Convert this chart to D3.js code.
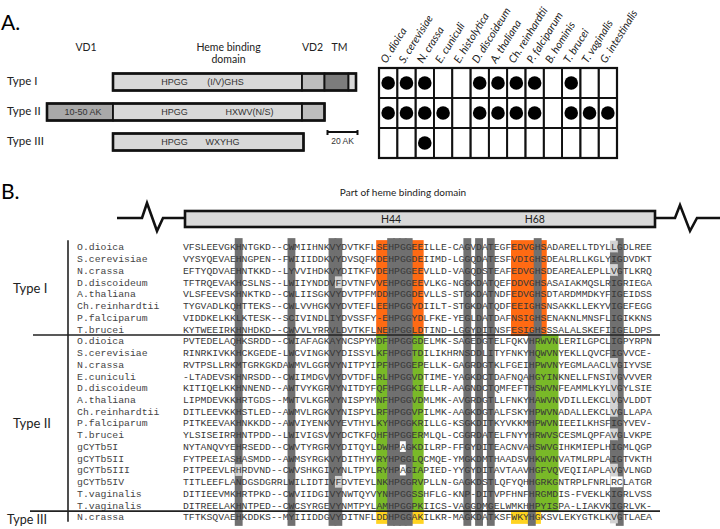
<!DOCTYPE html>
<html>
<head>
<meta charset="utf-8">
<script src="https://cdn.jsdelivr.net/npm/d3@7"></script>
<style>
  body { margin: 0; background: #fff; }
  svg { display: block; }
  .sans { font-family: Lato, "Open Sans", sans-serif; }
  .arial { font-family: "Liberation Sans", Arial, sans-serif; }
  .mono { font-family: "Liberation Mono", "Courier New", monospace; }
</style>
</head>
<body>
<div id="chart"></div>
<script>
(function() {

  let width  = 720,
      height = 529;

  // ---- panel A data ----
  const species = ["O. dioica", "S. cerevisiae", "N. crassa", "E. cuniculi", "E. histolytica",
                   "D. discoideum", "A. thaliana", "Ch. reinhardtii", "P. falciparum",
                   "B. hominis", "T. brucei", "T. vaginalis", "G. intestinalis"];
  const domainTypes = ["Type I", "Type II", "Type III"];
  // 1 = type present in that organism
  const presence = [
    [1,1,1,0,0,1,1,1,1,0,1,0,0],
    [1,1,1,1,0,1,1,1,1,0,1,1,1],
    [0,0,1,0,0,0,0,0,0,0,0,0,0]
  ];
  // domain pieces in amino acids, counted from the start of type II
  const segTypeI   = [["heme", 44, 170], ["vd2", 170, 185], ["tm", 185, 201], ["tail", 201, 206]];
  const segTypeII  = [["vd1", 0, 44], ["heme", 44, 170], ["vd2", 170, 185]];
  const segTypeIII = [["heme", 44, 171]];
  const motifTypeI   = [["HPGG", 85], ["(I/V)GHS", 119]];
  const motifTypeII  = [["10-50 AK", 24], ["HPGG", 85], ["HXWV(N/S)", 135]];
  const motifTypeIII = [["HPGG", 85], ["WXYHG", 117]];
  const domainHeaders = [["VD1", 26], ["Heme binding|domain", 121], ["VD2", 177], ["TM", 195]];
  const scaleBar = [187, 207]; // 20 AK

  // ---- panel B data ----
  const groupNames = ["Type I", "Type II", "Type III"];
  const groupSizes = [8, 15, 1];
  const seqNames = [
    "O.dioica", "S.cerevisiae", "N.crassa", "D.discoideum", "A.thaliana", "Ch.reinhardtii", "P.falciparum", "T.brucei",
    "O.dioica", "S.cerevisiae", "N.crassa", "E.cuniculi", "D.discoideum", "A.thaliana", "Ch.reinhardtii",
    "P.falciparum", "T.brucei", "gCYTb5I", "gCYTb5II", "gCYTb5III", "gCYTb5IV", "T.vaginalis", "T.vaginalis",
    "N.crassa"
  ];
  const sequences = [
    "VFSLEEVGKHNTGKD--CWMIIHNKVYDVTKFLSEHPGGEEILLE-CAGVDATEGFEDVGHSADARELLTDYLLGDLREE",
    "VYSYQEVAEHNGPEN--FWIIIDDKVYDVSQFKDEHPGGDEIIMD-LGGQDATESFVDIGHSDEALRLLKGLYIGDVDKT",
    "EFTYQDVAEHNTKKD--LYVVIHDKVYDITKFVDEHPGGEEVLLD-VAGQDSTEAFEDVGHSDEAREALEPLLVGTLKRQ",
    "TFTRQEVAKHCSLNS--LWIIYNDDVFDVTNFVVEHPGGEEVLKG-NGGKDATQEFDDVGHSASAIAKMQSLRIGRIEGA",
    "VLSFEEVSKHNKTKD--CWLIISGKVYDVTPFMDDHPGGDEVLLS-STGKDATNDFEDVGHSDTARDMMDKYFIGEIDSS",
    "TYGVADLKQHTTEKS--CWLVVHGKVYDVTEFLEEHPGGYDIILT-STGKDATQDFEEIGHSNSAKKLLEKYVIGEFEGG",
    "VIDDKELKKLKTESK--SCIVINDLIYDVSSFY-EHPGGYDLFKE-YEGLDATDAFNSIGHSENAKNLMNSFLIGIKKNS",
    "KYTWEEIRKHNHDKD--CWVVLYRRVLDVTKFLNEHPGGLDTIND-LGGYDITNSFESIGHSSSALALSKEFIIGELDPS",
    "PVTEDELAQHKSRDD--CWIAFAGKAYNCSPYMDFHPGGGDELMK-SAGEDGTELFQKVHRWVNLERILGPCLIGPYRPN",
    "RINRKIVKKHCKGEDE-LWCVINGKVYDISSYLKFHPGGTDILIKHRNSDDLITYFNKYHQWVNYEKLLQVCFIGVVCE-",
    "RVTPSLLRKMTGRKGKDAWMVLGGRVYNITPYIPFHPGGEPELLK-GAGRDGTKLFGEIHPWVNYEGMLAACLVGIYVSE",
    "-LTADEVSKHNRSDD--CWIIMDGVVYDVTDFLRLHPGGVDTIME-YAGKDCTDAFNQAHGYINKNELLFNSIVGVVVER",
    "KITIQELKKHNNEND--AWTVYKGRVYNITDYFQFHPGGKIELLR-AAGNDCTQMFEFTHSWVNFEAMMLKYLVGYLSIE",
    "LIPMDEVKKHRTGDS--MWTVLKGRVYNISPYMNFHPGGVDMLMK-AVGRDGTLLFNKYHAWVNVDILLEKCLVGVLDDT",
    "DITLEEVKKHSTLED--AWMVLRGKVYNISPYLRFHPGGVPILMK-AAGKDGTALFSKYHPWVNADALLEKCLVGLLAPA",
    "PITKEEVAKHNKKDD--AWVIYENKVYEVTHYLKYHPGGKRILLG-KSGKDITKYVKKMHPWVNIEEILKHSFIGYVEV-",
    "YLSISEIRRHNTPDD--LWIVIGSVVYDCTKFQHFHPGGERMLQL-CGGRDATELFNYYHRWVSCESMLQPFAVGLVKPE",
    "NYTANQVYEHRSEDD--CWVTYRGRVYDITQYLDWHPAGKDILRP-FFGYDITEACNVAHSWVGIHKMIEPLHIGMLQGP",
    "FYTPEEIASHASMDD--AWMSYRGKVYDITHYVRYHPGGLQCMQE-YMGKDMTHAADSVHKWVNVATMLRPLAIGTVKTH",
    "PITPEEVLRHRDVND--CWVSHKGIVYNLTPYLRYHPAGIAPIED-YYGYDITAVTAAVHGFVQVEQIIAPLAVGVLNGD",
    "TITLEEFLANDGSDGRRLWILIDTIVFDVTEYLNKHPGGRVPLLN-GAGKDSTLQFYQHHGRKGNTRPLFNRLRCLATGR",
    "DITIEEVMKHRTPKD--CWVIIDGIVYNWTQYVYNHPGGSSHFLG-KNP-DITVPFHNFHRGMDIS-FVEKLKIGRLVSS",
    "DITREELAKHNTPED--CWCSYRGEVYNMTPYLAMHPGGPKIICS-VAGGDMGELWMKHHPYISPA-LIAKVKIGRLVK-",
    "TFTKSQVAEHKDDKS--MYIIIDDGVYDITNFLDDHPGGAKILKR-MAGKDATKSFWKYHGKSVLEKYGTKLKVGTLAEA"
  ];
  // conserved columns (1-based alignment positions)
  const grayColsTypeI  = [10, 19, 26, 27, 36, 37, 38, 39, 49, 51, 53, 61, 75];
  const grayColsTypeII = [10, 19, 26, 27, 36, 37, 38, 39, 49, 51, 53, 60, 75];
  const orangeRuns = [[34, 41], [57, 62]];
  const greenRuns  = [[34, 41], [61, 64]];
  const yellowRuns = [[34, 41], [57, 61]];
  const mixedCol   = 74;
  const mixedDarkRows = [1, 3, 4, 5, 6, 7, 8, 9, 15, 17, 18, 21, 22];
  const lightCells = [[3, 27], [19, 10], [20, 27]];
  const whiteCells = [[17, 38], [19, 38], [20, 74], [20, 75]];

  const C = {
    dark: "#707070", light: "#d3d3d3", orange: "#ff6a13",
    green: "#79b928", yellow: "#ffd320", text: "#383838"
  };

  let svg = d3.select("#chart")
    .append("svg")
    .attr("width", width)
    .attr("height", height);

  // ================= panel A =================
  svg.append("text").attr("class", "sans")
    .attr("x", 1).attr("y", 30)
    .style("font-size", "21px").text("A.");

  let aa = d3.scaleLinear().domain([0, 20]).range([47, 77]);
  let rowBand = d3.scaleBand().domain(domainTypes).range([68, 158]);
  let colBand = d3.scaleBand().domain(species).range([379, 617]);

  let headers = svg.append("g").attr("class", "sans").style("font-size", "10.5px").attr("fill", "#222");
  domainHeaders.forEach(([label, pos]) => {
    label.split("|").forEach((line, i) => {
      headers.append("text")
        .attr("x", aa(pos)).attr("y", 51 + i * 11.5)
        .attr("text-anchor", "middle").text(line);
    });
  });

  let segFill = { heme: "#d9d9d9", vd1: "#a9a9a9", vd2: "#bdbdbd", tm: "#7c7c7c", tail: "#d9d9d9" };
  let archs = [[segTypeI, motifTypeI], [segTypeII, motifTypeII], [segTypeIII, motifTypeIII]];
  let boxH = 17;

  archs.forEach(([segs, motifs], i) => {
    let cy = rowBand(domainTypes[i]) + rowBand.bandwidth() / 2 - 1;
    let g = svg.append("g");
    g.selectAll("rect.seg")
      .data(segs)
      .enter().append("rect")
      .attr("class", "seg")
      .attr("x", d => aa(d[1]))
      .attr("y", cy - boxH / 2)
      .attr("width", d => aa(d[2]) - aa(d[1]))
      .attr("height", boxH)
      .attr("fill", d => segFill[d[0]])
      .attr("stroke", "#111")
      .attr("stroke-width", 1.8);
    g.append("rect")
      .attr("x", aa(segs[0][1])).attr("y", cy - boxH / 2)
      .attr("width", aa(segs[segs.length - 1][2]) - aa(segs[0][1]))
      .attr("height", boxH)
      .attr("fill", "none").attr("stroke", "#111").attr("stroke-width", 2.6);
    g.selectAll("text.motif")
      .data(motifs)
      .enter().append("text")
      .attr("class", "motif arial")
      .attr("x", d => aa(d[1]))
      .attr("y", cy + 3.3)
      .attr("text-anchor", "middle")
      .style("font-size", "9px")
      .attr("fill", "#333")
      .text(d => d[0]);
    svg.append("text").attr("class", "sans")
      .attr("x", 7).attr("y", cy + 3)
      .style("font-size", "11.5px").attr("fill", "#222")
      .text(domainTypes[i]);
  });

  // scale bar
  let sb = svg.append("g").attr("stroke", "#111").attr("stroke-width", 2);
  sb.append("line").attr("x1", aa(scaleBar[0])).attr("x2", aa(scaleBar[1])).attr("y1", 132).attr("y2", 132);
  scaleBar.forEach(p => sb.append("line").attr("x1", aa(p)).attr("x2", aa(p)).attr("y1", 130).attr("y2", 135));
  svg.append("text").attr("class", "arial")
    .attr("x", (aa(scaleBar[0]) + aa(scaleBar[1])) / 2).attr("y", 144)
    .attr("text-anchor", "middle").style("font-size", "8.5px").attr("fill", "#333")
    .text("20 AK");

  // presence grid
  let grid = svg.append("g");
  presence.forEach((row, r) => {
    species.forEach((sp, c) => {
      grid.append("rect")
        .attr("x", colBand(sp)).attr("y", rowBand(domainTypes[r]))
        .attr("width", colBand.bandwidth()).attr("height", rowBand.bandwidth())
        .attr("fill", "none").attr("stroke", "#111").attr("stroke-width", 1.8);
    });
  });
  grid.append("rect")
    .attr("x", 379).attr("y", 68).attr("width", 238).attr("height", 90)
    .attr("fill", "none").attr("stroke", "#111").attr("stroke-width", 2.2);

  presence.forEach((row, r) => {
    grid.selectAll(null)
      .data(species.filter((s, c) => row[c]))
      .enter().append("circle")
      .attr("cx", d => colBand(d) + colBand.bandwidth() / 2)
      .attr("cy", rowBand(domainTypes[r]) + rowBand.bandwidth() / 2)
      .attr("r", 6.8)
      .attr("fill", "#000");
  });

  svg.append("g").selectAll("text")
    .data(species)
    .enter().append("text")
    .attr("class", "sans")
    .attr("transform", d => `translate(${colBand(d) + colBand.bandwidth() / 2 - 2},64) rotate(-58)`)
    .style("font-size", "10.8px").style("font-style", "italic")
    .attr("fill", "#222")
    .text(d => d);

  // ================= panel B =================
  svg.append("text").attr("class", "sans")
    .attr("x", 1).attr("y", 199)
    .style("font-size", "21px").text("B.");

  svg.append("text").attr("class", "sans")
    .attr("x", 403).attr("y", 196)
    .attr("text-anchor", "middle").style("font-size", "10px").attr("fill", "#222")
    .text("Part of heme binding domain");

  let x = d3.scaleLinear().domain([1, 81]).range([183, 652]);
  let cw = x(2) - x(1);
  let y = d3.scaleLinear().domain([0, 23]).range([247, 517]);
  let rh = y(1) - y(0);

  // top bar with break marks
  let barG = svg.append("g").attr("fill", "none").attr("stroke", "#111").attr("stroke-width", 2.6)
    .attr("stroke-linejoin", "miter");
  barG.append("path").attr("d", "M117,218 L142,218 L147,203 L157,231 L163,218 L185,218");
  barG.append("path").attr("d", "M655,218 L675,218 L680,205 L690,231 L697,218 L720,218");
  barG.append("rect").attr("x", 185).attr("y", 211).attr("width", 470).attr("height", 16)
    .attr("fill", "#d9d9d9");
  svg.append("text").attr("class", "sans").attr("x", x(36.5)).attr("y", 222.5)
    .attr("text-anchor", "middle").style("font-size", "10.5px").attr("fill", "#222").text("H44");
  svg.append("text").attr("class", "sans").attr("x", x(61)).attr("y", 222.5)
    .attr("text-anchor", "middle").style("font-size", "10.5px").attr("fill", "#222").text("H68");

  let groupStart = [0, 8, 23];
  let groupEnd = [7, 22, 23];

  let shade = svg.append("g");
  function colRect(p0, p1, r0, r1, fill, pad, hpad) {
    hpad = hpad || 0;
    shade.append("rect")
      .attr("x", x(p0) - hpad).attr("width", x(p1 + 1) - x(p0) + 2 * hpad)
      .attr("y", y(r0) - rh / 2 - pad)
      .attr("height", y(r1) - y(r0) + rh + 2 * pad)
      .attr("fill", fill);
  }
  orangeRuns.forEach(r => colRect(r[0], r[1], 0, 7, C.orange, 1, 0.3));
  greenRuns.forEach(r => colRect(r[0], r[1], 8, 22, C.green, 1, 0.3));
  yellowRuns.forEach(r => colRect(r[0], r[1], 23, 23, C.yellow, 1, 0.3));
  grayColsTypeI.forEach(p => colRect(p, p, 0, 7, C.dark, 3, 1));
  grayColsTypeII.forEach(p => colRect(p, p, 8, 23, C.dark, 3, 1));

  // mixed column: light unless the residue is conserved
  d3.range(0, 24).forEach(r => {
    colRect(mixedCol, mixedCol, r, r, mixedDarkRows.includes(r) ? C.dark : C.light, 0.5, 1);
  });
  lightCells.forEach(([r, p]) => colRect(p, p, r, r, C.light, 0, 0.5));
  whiteCells.forEach(([r, p]) => colRect(p, p, r, r, "#fff", -0.5, 0));

  // residues
  let seqG = svg.append("g").attr("class", "mono").style("font-size", "9.8px").attr("fill", C.text);
  sequences.forEach((s, r) => {
    seqG.append("g").selectAll("text")
      .data(s.split(""))
      .enter().append("text")
      .attr("x", (d, i) => x(i + 1) + cw / 2)
      .attr("y", y(r) + 3.4)
      .attr("text-anchor", "middle")
      .text(d => d);
  });

  svg.append("g").attr("class", "mono").style("font-size", "9.8px").attr("fill", "#444")
    .selectAll("text")
    .data(seqNames)
    .enter().append("text")
    .attr("x", 77)
    .attr("y", (d, i) => y(i) + 3.4)
    .text(d => d);

  // group brackets and labels
  let lines = svg.append("g").attr("stroke", "#222").attr("stroke-width", 1.6);
  groupNames.forEach((gname, i) => {
    lines.append("line")
      .attr("x1", 68).attr("x2", 68)
      .attr("y1", y(groupStart[i]) - rh / 2 - 1)
      .attr("y2", y(groupEnd[i]) + rh / 2 - 1);
    svg.append("text").attr("class", "sans")
      .attr("x", i === 2 ? 7 : 13)
      .attr("y", (y(groupStart[i]) + y(groupEnd[i])) / 2 + (i === 2 ? 7 : 4.5))
      .style("font-size", i === 2 ? "12.5px" : "13px").attr("fill", "#222")
      .text(gname);
  });
  lines.append("line").attr("x1", 33).attr("x2", 660)
    .attr("y1", (y(7) + y(8)) / 2).attr("y2", (y(7) + y(8)) / 2);
  lines.append("line").attr("x1", 30).attr("x2", 660)
    .attr("y1", (y(22) + y(23)) / 2).attr("y2", (y(22) + y(23)) / 2);

})();
</script>
</body>
</html>
